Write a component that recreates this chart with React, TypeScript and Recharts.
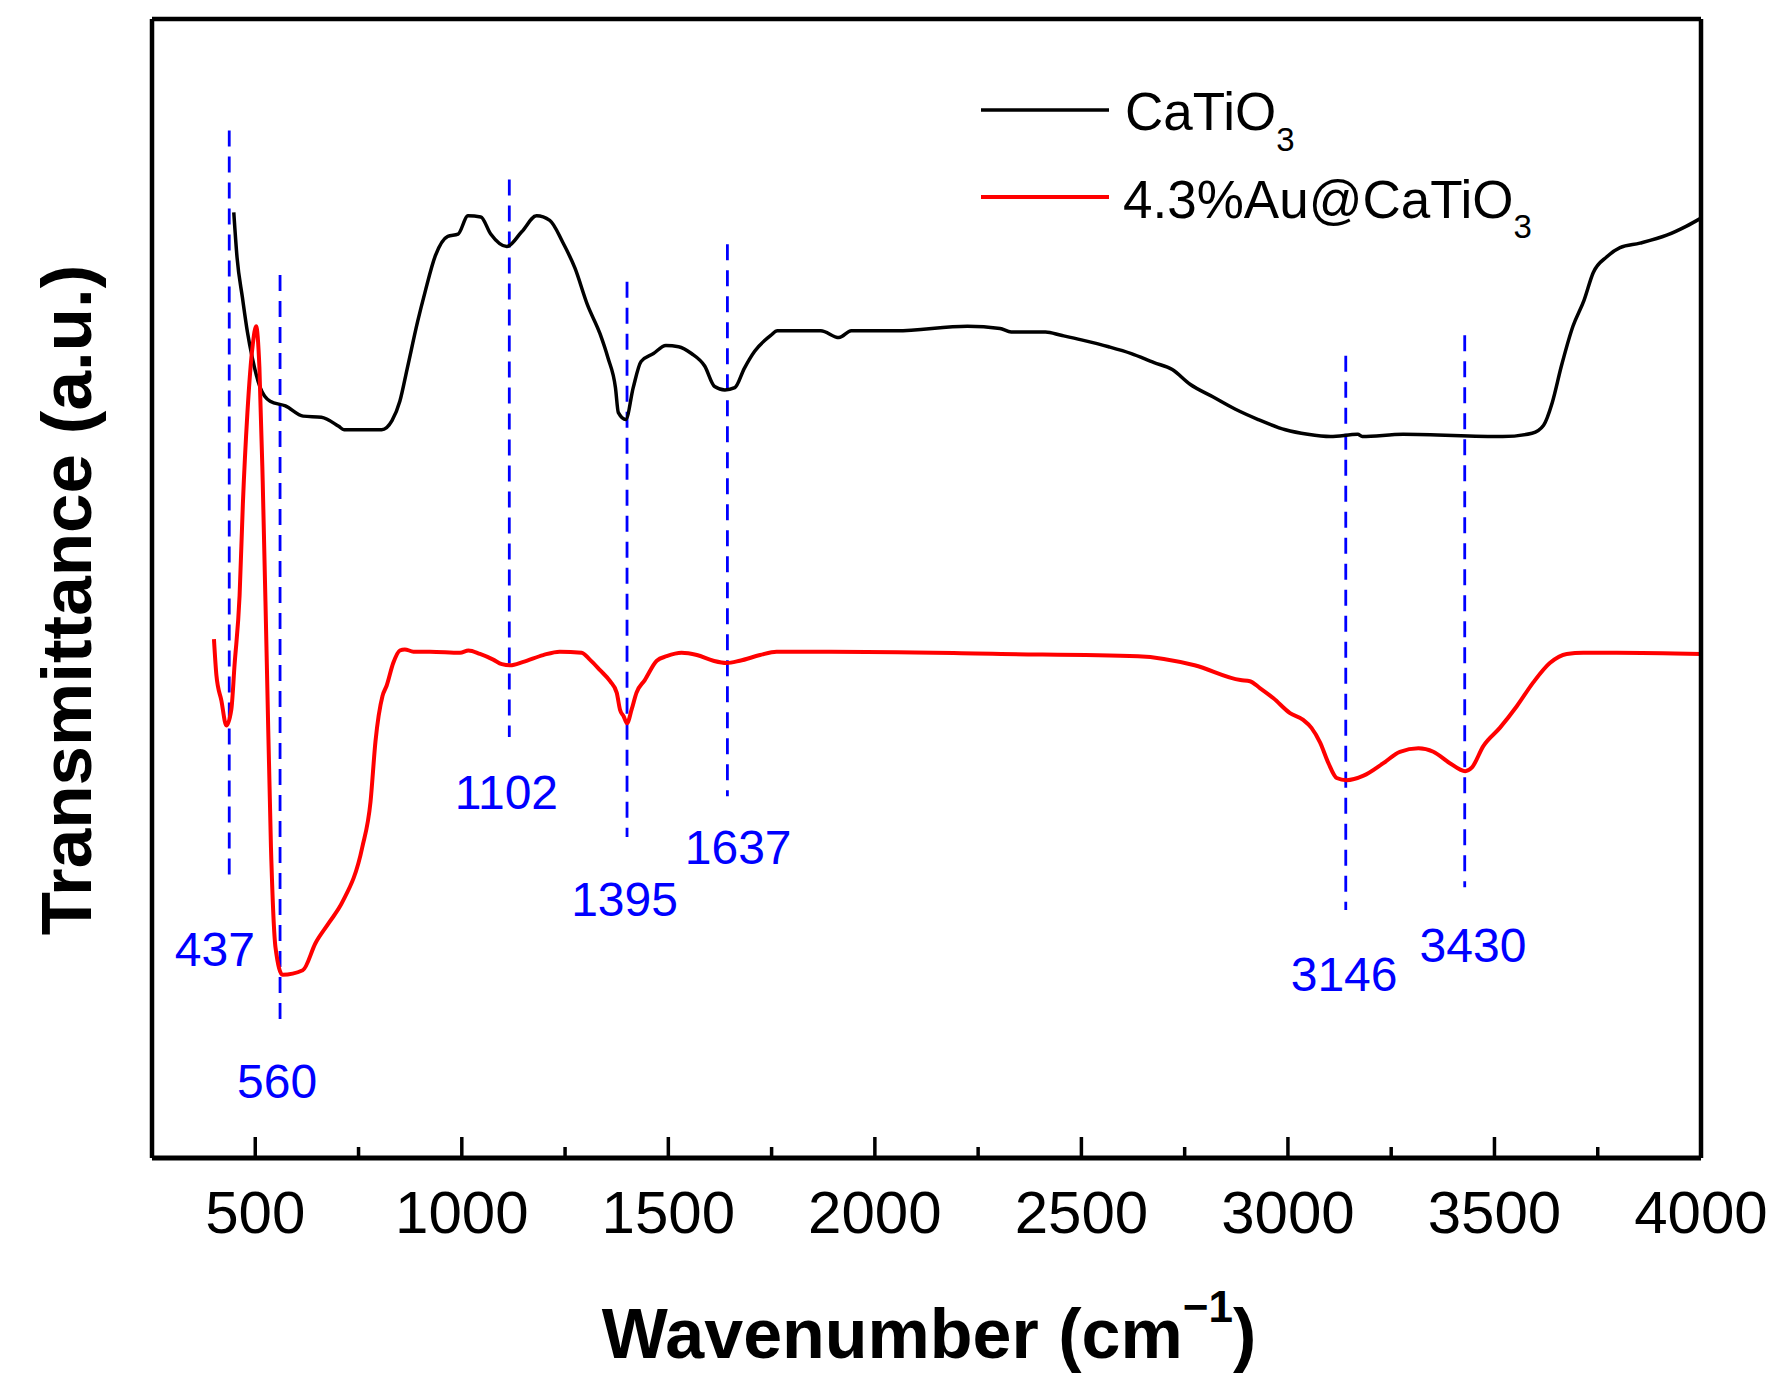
import {
  LineChart,
  Line,
  XAxis,
  YAxis,
  ReferenceLine,
  ReferenceDot,
  Label,
} from "recharts";

// CaTiO3 spectrum (wavenumber / relative transmittance)
const caTiO3Wavenumber = [
  448, 456, 469, 481, 493, 512, 536, 573, 616, 660, 702, 715, 806, 831, 850, 868, 893, 911, 936, 966,
  991, 1015, 1046, 1070, 1109, 1145, 1181, 1213, 1244, 1274, 1304, 1335, 1354, 1372, 1379, 1397, 1415,
  1434, 1464, 1494, 1525, 1556, 1588, 1612, 1637, 1661, 1684, 1709, 1748, 1764, 1869, 1913, 1943, 2052,
  2224, 2303, 2330, 2413, 2451, 2500, 2566, 2621, 2676, 2720, 2763, 2818, 2873, 2928, 2994, 3048, 3103,
  3169, 3180, 3279, 3520, 3591, 3619, 3640, 3662, 3690, 3717, 3739, 3772, 3804, 3852, 3917, 3965, 4000,
];
const caTiO3Transmittance = [
  831, 791, 756, 726, 703, 677, 665, 661, 652, 651, 643, 640, 640, 648, 665, 694, 735, 761, 793, 810,
  812, 828, 827, 812, 801, 814, 828, 824, 805, 782, 750, 724, 703, 677, 655, 649, 677,
  700, 707, 714, 713, 707, 696, 678, 675, 677, 694, 709, 723, 727, 727, 721, 727, 727,
  731, 729, 726, 726, 723, 719, 713, 707, 699, 693, 680, 669, 658, 649, 640, 636, 634,
  636, 634, 636, 634, 637, 644, 664, 696, 731, 754, 778, 792, 800, 804, 811, 819, 826,
];

// 4.3%Au@CaTiO3 spectrum
const auWavenumber = [
  400, 406, 418, 430, 442, 450, 462, 470, 481, 494, 502, 510, 518, 528, 538, 549, 566, 615, 646, 679,
  711, 759, 779, 791, 808, 818, 834, 850, 862, 883, 923, 996, 1016, 1044, 1076, 1097, 1117, 1149, 1197,
  1237, 1290, 1310, 1334, 1359, 1375, 1383, 1392, 1400, 1411, 1423, 1443, 1472, 1496, 1532, 1569, 1609,
  1641, 1673, 1722, 1762, 1891, 2306, 2637, 2774, 2885, 2908, 2932, 2965, 3005, 3037, 3057, 3078, 3098,
  3118, 3142, 3183, 3231, 3271, 3316, 3352, 3392, 3429, 3445, 3473, 3513, 3554, 3594, 3634, 3675, 3715,
  3796, 4000,
];
const auTransmittance = [
  456, 424, 402, 380, 394, 434, 494, 575, 655, 715, 731, 695, 595, 434, 273, 185, 161, 165, 189, 207,
  225, 273, 313, 366, 406, 415, 435, 446, 447, 445, 445, 444, 446, 443, 438, 434, 433, 436, 442,
  445, 444, 438, 429, 419, 409, 394, 388, 382, 394, 409, 420, 437, 441, 444, 442, 437,
  435, 437, 442, 445, 445, 443, 441, 433, 420, 419, 413, 404, 391, 385, 378, 365, 347,
  334, 332, 336, 347, 357, 360, 357, 347, 340, 343, 362, 378, 397, 418, 435, 443, 444,
  444, 443,
];

// marked bands: dashed guide lines and their labels
const peakLabels = ["437", "560", "1102", "1395", "1637", "3146", "3430"];
const peakLineX = [437, 560, 1115, 1400, 1643, 3140, 3428];
const peakLineTop = [903, 776, 860, 770, 803, 705, 723];
const peakLineBottom = [242, 115, 370, 282, 318, 218, 238];
const peakLabelX = [402, 553, 1108, 1394, 1669, 3136, 3448];
const peakLabelY = [184, 68, 322, 228, 273, 162, 187];

const xTicks = [500, 750, 1000, 1250, 1500, 1750, 2000, 2250, 2500, 2750, 3000, 3250, 3500, 3750, 4000];

const caTiO3Data = caTiO3Wavenumber.map((x, i) => ({ x, y: caTiO3Transmittance[i] }));
const auData = auWavenumber.map((x, i) => ({ x, y: auTransmittance[i] }));

const FONT = '"Liberation Sans", Arial, sans-serif';
const BLUE = "#0000FF";

function WaveTick(props: any) {
  const { x, y, payload } = props;
  const major = payload.value % 500 === 0;
  return (
    <g>
      <line x1={x} x2={x} y1={y} y2={y - (major ? 21 : 11)} stroke="#000" strokeWidth={3.5} />
      {major && (
        <text x={x} y={y + 75} textAnchor="middle" fontSize={60} fontFamily={FONT} fill="#000">
          {payload.value}
        </text>
      )}
    </g>
  );
}

function XTitle() {
  return (
    <text x={929} y={1358} textAnchor="middle" fontSize={70} fontWeight="bold" fontFamily={FONT} fill="#000">
      Wavenumber (cm
      <tspan dy={-36} fontSize={44}>
        −1
      </tspan>
      <tspan dy={36}>)</tspan>
    </text>
  );
}

function YTitle() {
  return (
    <text
      x={91}
      y={600}
      transform="rotate(-90, 91, 600)"
      textAnchor="middle"
      fontSize={71}
      fontWeight="bold"
      fontFamily={FONT}
      fill="#000"
    >
      Transmittance (a.u.)
    </text>
  );
}

function ChartLegend() {
  return (
    <svg
      width={640}
      height={190}
      style={{ position: "absolute", left: 975, top: 60 }}
      fontFamily={FONT}
    >
      <line x1={6} x2={134} y1={50} y2={50} stroke="#000" strokeWidth={3.5} />
      <text x={150} y={70} fontSize={53} fill="#000">
        CaTiO<tspan dy={21} fontSize={33}>3</tspan>
      </text>
      <line x1={6} x2={134} y1={137} y2={137} stroke="#FF0000" strokeWidth={4} />
      <text x={148} y={158} fontSize={53} fill="#000">
        4.3%Au@CaTiO<tspan dy={20} fontSize={33}>3</tspan>
      </text>
    </svg>
  );
}

export default function App() {
  return (
    <div style={{ position: "absolute", left: 0, top: 0, width: 1784, height: 1394, background: "#fff" }}>
      <LineChart width={1784} height={1394} margin={{ top: 18, right: 82, bottom: 235, left: 151 }}>
        <XAxis
          dataKey="x"
          type="number"
          domain={[250, 4000]}
          ticks={xTicks}
          allowDataOverflow
          height={1}
          tickSize={0}
          tickMargin={0}
          tickLine={false}
          tick={<WaveTick />}
          axisLine={{ stroke: "#000", strokeWidth: 5 }}
          interval={0}
        />
        <XAxis
          xAxisId="top"
          orientation="top"
          dataKey="x"
          type="number"
          domain={[250, 4000]}
          height={1}
          tick={false}
          tickLine={false}
          axisLine={{ stroke: "#000", strokeWidth: 4.5 }}
        />
        <YAxis
          type="number"
          domain={[0, 1001]}
          width={1}
          tick={false}
          tickLine={false}
          allowDataOverflow
          axisLine={{ stroke: "#000", strokeWidth: 4.5 }}
        />
        <YAxis
          yAxisId="right"
          orientation="right"
          type="number"
          domain={[0, 1001]}
          width={1}
          tick={false}
          tickLine={false}
          axisLine={{ stroke: "#000", strokeWidth: 4.5 }}
        />
        {peakLineX.map((x, i) => (
          <ReferenceLine
            key={"pl" + i}
            segment={[
              { x, y: peakLineTop[i] },
              { x, y: peakLineBottom[i] },
            ]}
            stroke={BLUE}
            strokeWidth={2.8}
            strokeDasharray="16 10"
          />
        ))}
        <Line
          data={caTiO3Data}
          dataKey="y"
          type="monotone"
          stroke="#000"
          strokeWidth={3.5}
          dot={false}
          isAnimationActive={false}
        />
        <Line
          data={auData}
          dataKey="y"
          type="monotone"
          stroke="#FF0000"
          strokeWidth={4}
          dot={false}
          isAnimationActive={false}
        />
        {peakLabels.map((text, i) => (
          <ReferenceDot
            key={"lb" + i}
            x={peakLabelX[i]}
            y={peakLabelY[i]}
            r={1}
            fill="none"
            stroke="none"
          >
            <Label value={text} position="center" fill={BLUE} fontSize={48} fontFamily={FONT} />
          </ReferenceDot>
        ))}
        <XTitle />
        <YTitle />
      </LineChart>
      <ChartLegend />
    </div>
  );
}
